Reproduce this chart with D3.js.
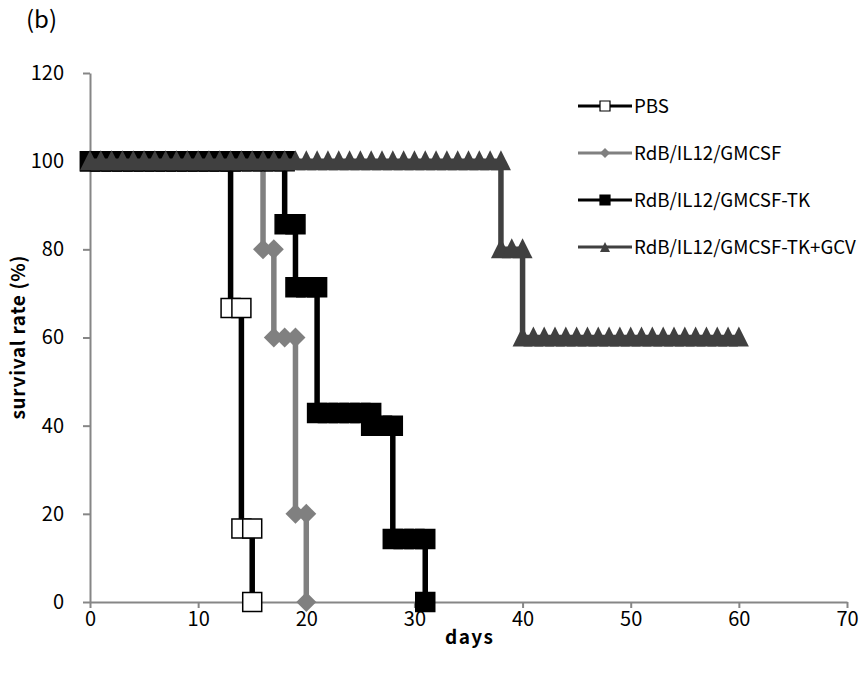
<!DOCTYPE html>
<html>
<head>
<meta charset="utf-8">
<script src="https://cdn.jsdelivr.net/npm/d3@7"></script>
<style>
  body { margin: 0; background: #fff; }
  text { font-family: "Noto Sans CJK KR", "Noto Sans", sans-serif; }
</style>
</head>
<body>
<div id="vis"></div>
<script>
// survival data, step form (a day appears twice where the rate drops)
const pbsDays  = [0,1,2,3,4,5,6,7,8,9,10,11,12,13,13,14,14,15,15];
const pbsRates = [100,100,100,100,100,100,100,100,100,100,100,100,100,100,66.7,66.7,16.7,16.7,0];

const rdbDays  = [0,1,2,3,4,5,6,7,8,9,10,11,12,13,14,15,16,16,17,17,18,19,19,20,20];
const rdbRates = [100,100,100,100,100,100,100,100,100,100,100,100,100,100,100,100,100,80,80,60,60,60,20,20,0];

const tkDays  = [0,1,2,3,4,5,6,7,8,9,10,11,12,13,14,15,16,17,18,18,19,19,20,21,21,22,23,24,25,26,26,27,28,28,29,30,31,31];
const tkRates = [100,100,100,100,100,100,100,100,100,100,100,100,100,100,100,100,100,100,100,85.7,85.7,71.4,71.4,71.4,42.9,42.9,42.9,42.9,42.9,42.9,40,40,40,14.3,14.3,14.3,14.3,0];

const gcvDays  = [0,1,2,3,4,5,6,7,8,9,10,11,12,13,14,15,16,17,18,19,20,21,22,23,24,25,26,27,28,29,30,31,32,33,34,35,36,37,38,
                  38,39,40,40,41,42,43,44,45,46,47,48,49,50,51,52,53,54,55,56,57,58,59,60];
const gcvRates = [100,100,100,100,100,100,100,100,100,100,100,100,100,100,100,100,100,100,100,100,100,100,100,100,100,100,100,100,100,100,100,100,100,100,100,100,100,100,100,
                  80,80,80,60,60,60,60,60,60,60,60,60,60,60,60,60,60,60,60,60,60,60,60,60];

const seriesNames = ["PBS", "RdB/IL12/GMCSF", "RdB/IL12/GMCSF-TK", "RdB/IL12/GMCSF-TK+GCV"];
const xTicks = [0, 10, 20, 30, 40, 50, 60, 70];
const yTicks = [0, 20, 40, 60, 80, 100, 120];

const W = 865, H = 680;
const svg = d3.select("#vis").append("svg")
    .attr("width", W).attr("height", H);

const x = d3.scaleLinear().domain([0, 70]).range([90, 847]);
const y = d3.scaleLinear().domain([0, 120]).range([602, 73]);

const axisColor = "#868686";

// y axis
svg.append("g")
    .attr("transform", `translate(${x(0)},0)`)
    .call(d3.axisLeft(y).tickValues(yTicks).tickSize(7).tickPadding(19).tickSizeOuter(0))
    .call(g => g.select(".domain").attr("stroke", axisColor).attr("stroke-width", 2))
    .call(g => g.selectAll(".tick line").attr("stroke", axisColor).attr("stroke-width", 2))
    .call(g => g.selectAll(".tick text").attr("fill", "#000").style("font-size", "20px"));

// x axis
svg.append("g")
    .attr("transform", `translate(0,${y(0)})`)
    .call(d3.axisBottom(x).tickValues(xTicks).tickSize(6).tickPadding(4).tickSizeOuter(0))
    .call(g => g.select(".domain").attr("stroke", axisColor).attr("stroke-width", 2))
    .call(g => g.selectAll(".tick line").attr("stroke", axisColor).attr("stroke-width", 2))
    .call(g => g.selectAll(".tick text").attr("fill", "#000").style("font-size", "20px"));

svg.append("text")
    .attr("x", 469).attr("y", 644)
    .attr("text-anchor", "middle")
    .attr("textLength", 48)
    .attr("lengthAdjust", "spacing")
    .style("font-size", "19px").style("font-weight", "bold")
    .text("days");

svg.append("text")
    .attr("transform", `translate(25,${(y(0) + y(120)) / 2}) rotate(-90)`)
    .attr("text-anchor", "middle")
    .attr("textLength", 164)
    .attr("lengthAdjust", "spacing")
    .style("font-size", "19px").style("font-weight", "bold")
    .text("survival rate (%)");

svg.append("text")
    .attr("x", 26).attr("y", 28)
    .style("font-size", "24px")
    .text("(b)");

const series = [
  { name: seriesNames[0], days: pbsDays, rates: pbsRates, line: "#000", fill: "#fff", stroke: "#000", shape: "square" },
  { name: seriesNames[1], days: rdbDays, rates: rdbRates, line: "#808080", fill: "#808080", stroke: "none", shape: "diamond" },
  { name: seriesNames[2], days: tkDays, rates: tkRates, line: "#000", fill: "#000", stroke: "#000", shape: "square" },
  { name: seriesNames[3], days: gcvDays, rates: gcvRates, line: "#404040", fill: "#404040", stroke: "none", shape: "triangle" }
];

function markerPath(shape, s) {
  const h = s / 2;
  if (shape === "square") return `M${-h},${-h}H${h}V${h}H${-h}Z`;
  if (shape === "diamond") return `M0,${-h}L${h},0L0,${h}L${-h},0Z`;
  return `M0,${-h}L${h},${h}L${-h},${h}Z`;
}

const line = d3.line().x(d => x(d[0])).y(d => y(d[1]));

series.forEach(s => {
  const pts = s.days.map((d, i) => [d, s.rates[i]]);
  const g = svg.append("g");
  g.append("path")
      .attr("d", line(pts))
      .attr("fill", "none")
      .attr("stroke", s.line)
      .attr("stroke-width", 5.5);
  const size = s.shape === "square" ? 19 : 20;
  g.selectAll("path.m")
      .data(pts)
      .join("path")
      .attr("class", "m")
      .attr("transform", d => `translate(${x(d[0])},${y(d[1]) + (s.shape === "triangle" ? -1 : 0)})`)
      .attr("d", markerPath(s.shape, size))
      .attr("fill", s.fill)
      .attr("stroke", s.stroke)
      .attr("stroke-width", 1.5);
});

// legend
const legend = svg.append("g");
const legendItem = legend.selectAll("g")
    .data(series)
    .join("g")
    .attr("transform", (d, i) => `translate(578,${106 + i * 47})`);

legendItem.append("line")
    .attr("x1", 0).attr("x2", 54)
    .attr("stroke", d => d.line)
    .attr("stroke-width", 3);

legendItem.append("path")
    .attr("transform", "translate(27,0)")
    .attr("d", d => markerPath(d.shape, 10))
    .attr("fill", d => d.fill)
    .attr("stroke", d => d.stroke)
    .attr("stroke-width", 1.2);

const legendText = legendItem.append("text")
    .attr("x", 56).attr("y", 7)
    .style("font-size", "18px")
    .text(d => d.name);

// size the labels so the longest one spans about 222px like the original
const longest = d3.max(legendText.nodes(), n => n.getComputedTextLength());
const fs = Math.min(20, 18 * 222 / longest);
legendText.style("font-size", fs + "px");
</script>
</body>
</html>
